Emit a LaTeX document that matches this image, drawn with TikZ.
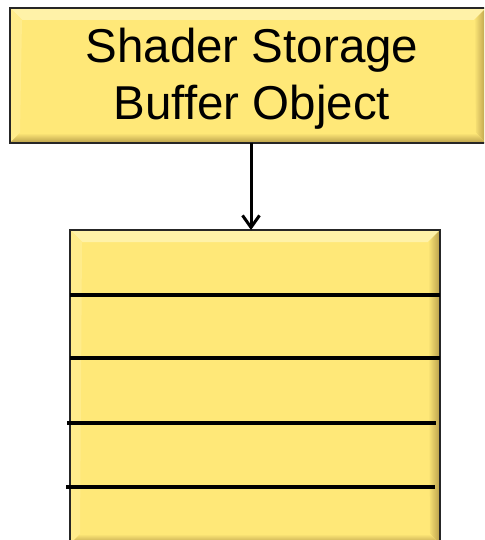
\documentclass[tikz,border=0pt]{standalone}
\usepackage{fontspec}
\setmainfont{Liberation Sans}
\usetikzlibrary{arrows.meta,calc}
\definecolor{boxfill}{HTML}{FFE878}
\definecolor{bevlight}{HTML}{FFF2A8}
\definecolor{bevdark}{HTML}{B89E4A}
\definecolor{bevside}{HTML}{FFEC8C}
\tikzset{
  bevelbox/.style={draw=black!85, line width=2pt, fill=boxfill, inner sep=0pt, outer sep=0pt,
    path picture={
      \coordinate (nw) at (path picture bounding box.north west);
      \coordinate (se) at (path picture bounding box.south east);
      \coordinate (ne) at (path picture bounding box.north east);
      \coordinate (sw) at (path picture bounding box.south west);
      \fill[bevlight] (nw) -- (ne) -- ($(ne)+(-12pt,-12pt)$) -- ($(nw)+(12pt,-12pt)$) -- cycle;
      \fill[bevside] (nw) -- (sw) -- ($(sw)+(10pt,10pt)$) -- ($(nw)+(12pt,-12pt)$) -- cycle;
      \shade[left color=boxfill, right color=bevdark] (ne) -- (se) -- ($(se)+(-10pt,10pt)$) -- ($(ne)+(-12pt,-12pt)$) -- cycle;
      \shade[top color=boxfill, bottom color=bevdark] (sw) -- (se) -- ($(se)+(-10pt,10pt)$) -- ($(sw)+(10pt,10pt)$) -- cycle;
    }},
  rowline/.style={line width=3.5pt, black},
  feed/.style={line width=3pt, black, -{Straight Barb[length=12pt,width=17pt,line width=3pt]}}
}
\begin{document}
\begin{tikzpicture}[x=1pt,y=-1pt]
\useasboundingbox (0,0) rectangle (484,540);
\clip (0,0) rectangle (484,540);
\node[bevelbox, minimum width=476pt, minimum height=135pt, anchor=north west,
      align=center, font=\fontsize{47.5}{57.5}\selectfont] (sso) at (10,8)
  {\rule{0pt}{41pt}\hspace*{8pt}Shader Storage\\\hspace*{8pt}Buffer Object};
\node[bevelbox, minimum width=370pt, minimum height=314pt, anchor=north west] (buf) at (70,230) {};
\coordinate (l1a) at (70,295);  \coordinate (l1b) at (440,295);
\coordinate (l2a) at (70,358);  \coordinate (l2b) at (440,358);
\coordinate (l3a) at (67,423);  \coordinate (l3b) at (436,423);
\coordinate (l4a) at (66,487);  \coordinate (l4b) at (435,487);
\draw[rowline] (l1a) -- (l1b);
\draw[rowline] (l2a) -- (l2b);
\draw[rowline] (l3a) -- (l3b);
\draw[rowline] (l4a) -- (l4b);
\draw[feed] ([xshift=3pt]sso.south) -- ([xshift=3pt]sso.south |- buf.north);
\end{tikzpicture}
\end{document}
